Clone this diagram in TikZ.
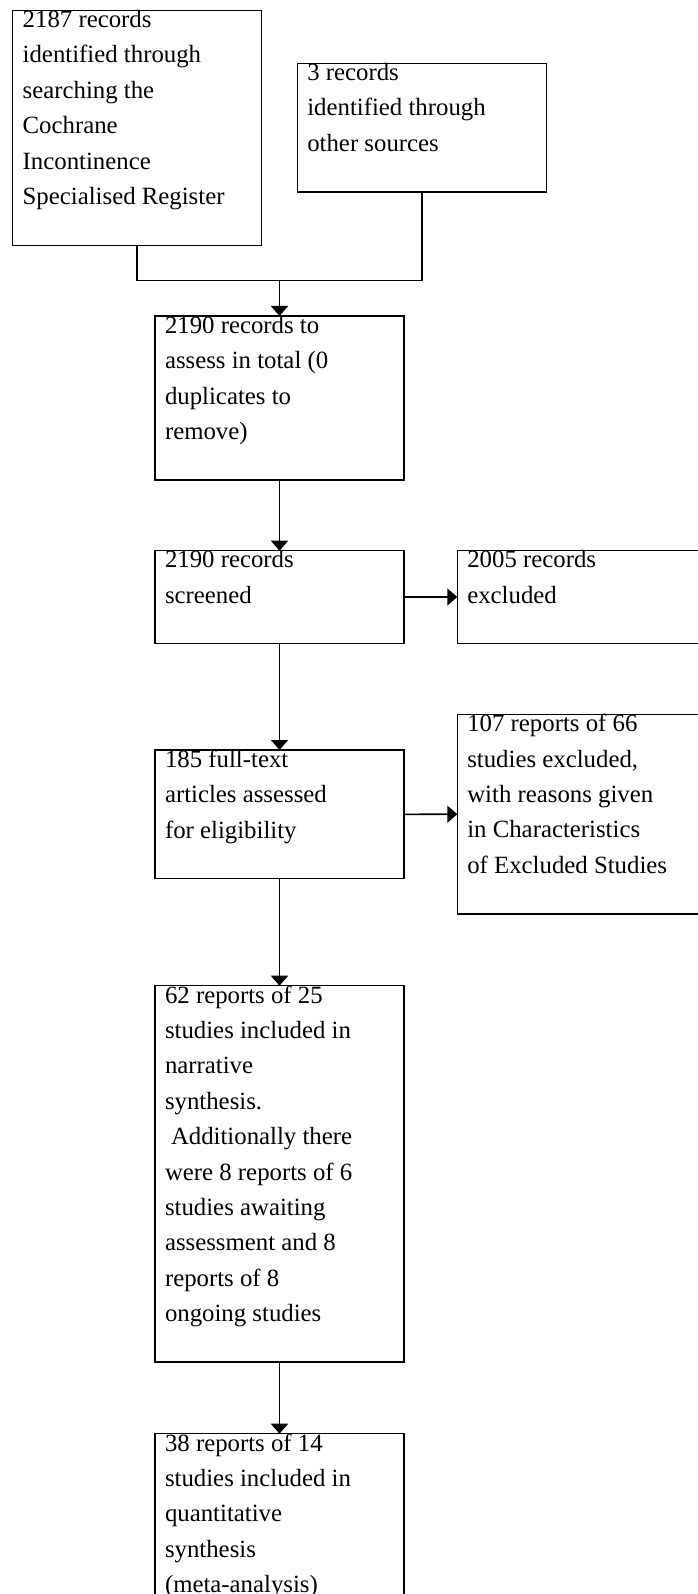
\documentclass[tikz,border=0pt]{standalone}
\usepackage{fontspec}
\setmainfont{Liberation Serif}
\usepackage{tikz}
\usetikzlibrary{arrows.meta}
\newcommand{\recbox}[2]{\parbox[t][#1][t]{229pt}{\raggedright\fontsize{24.8}{35.4}\selectfont #2}}

\begin{document}
\begin{tikzpicture}[x=1pt,y=-1pt,
  rec/.style={draw,line width=1.5pt,anchor=north west,inner xsep=10pt,inner ysep=0pt,outer sep=0pt},
  link/.style={line width=1.6pt},
  flow/.style={line width=1.6pt,-{Triangle[width=17pt,length=10pt]}}]
\useasboundingbox (0,0) rectangle (697,1594);
\node [rec] (search) at (12.7,10.3) {\recbox{235.4pt}{2187 records\\ identified through\\ searching the\\ Cochrane\\ Incontinence\\ Specialised Register}};
\node [rec] (other) at (297.3,63.3) {\recbox{128.7pt}{3 records\\ identified through\\ other sources}};
\node [rec] (total) at (155,316) {\recbox{164pt}{2190 records to\\ assess in total (0\\ duplicates to\\ remove)}};
\node [rec] (screen) at (155,550.7) {\recbox{92.6pt}{2190 records\\ screened}};
\node [rec] (excl) at (457.3,550.7) {\recbox{92.6pt}{2005 records\\ excluded}};
\node [rec] (full) at (155,750) {\recbox{128.7pt}{185 full-text\\ articles assessed\\ for eligibility}};
\node [rec] (exclfull) at (457.3,714.3) {\recbox{199.7pt}{107 reports of 66\\ studies excluded,\\ with reasons given\\ in Characteristics\\ of Excluded Studies}};
\node [rec] (narr) at (155,985.7) {\recbox{376.3pt}{62 reports of 25\\ studies included in\\ narrative\\ synthesis.\\ \hspace*{6pt}Additionally there\\ were 8 reports of 6\\ studies awaiting\\ assessment and 8\\ reports of 8\\ ongoing studies}};
\node [rec] (quant) at (155,1433.7) {\recbox{220pt}{38 reports of 14\\ studies included in\\ quantitative\\ synthesis\\ (meta-analysis)}};
\coordinate (join) at (279.5,280.7);
\draw [link] (search.south) |- (join);
\draw [link] (other.south) |- (join);
\draw [flow] (join) -- (total.north);
\draw [flow] (total.south) -- (screen.north);
\draw [flow] (screen.east) -- (excl.west);
\draw [flow] (screen.south) -- (full.north);
\draw [flow] (full.east) -- (exclfull.west);
\draw [flow] (full.south) -- (narr.north);
\draw [flow] (narr.south) -- (quant.north);
\end{tikzpicture}
\end{document}
